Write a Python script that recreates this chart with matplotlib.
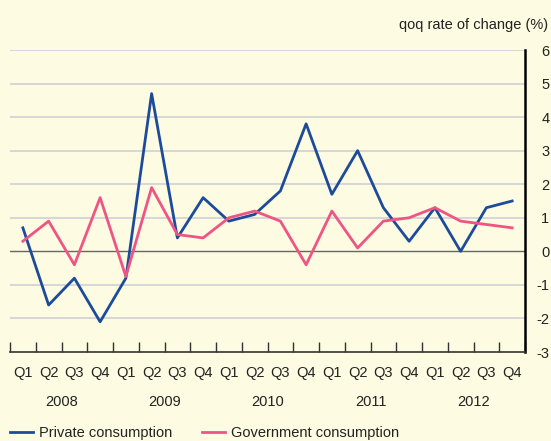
import matplotlib
matplotlib.use("Agg")
import matplotlib.pyplot as plt
import numpy as np

quarters = ["Q1", "Q2", "Q3", "Q4"] * 5
years = ["2008", "2009", "2010", "2011", "2012"]
private = [0.7, -1.6, -0.8, -2.1, -0.8, 4.7, 0.4, 1.6, 0.9, 1.1,
           1.8, 3.8, 1.7, 3.0, 1.3, 0.3, 1.3, 0.0, 1.3, 1.5]
government = [0.3, 0.9, -0.4, 1.6, -0.75, 1.9, 0.5, 0.4, 1.0, 1.2,
              0.9, -0.4, 1.2, 0.1, 0.9, 1.0, 1.3, 0.9, 0.8, 0.7]
yticks = [6, 5, 4, 3, 2, 1, 0, -1, -2, -3]

plt.rcParams['font.family'] = ['Liberation Sans', 'DejaVu Sans']
bg = "#fdfbe1"
blue = "#1d4b9c"
pink = "#ef5584"

fig = plt.figure(figsize=(5.51, 4.41), dpi=100, facecolor=bg)
ax = fig.add_axes([10/551, (441-352)/441, 515/551, 302/441], facecolor=bg)

x = np.arange(len(private))
ax.set_xlim(-0.5, len(private) - 0.5)
ax.set_ylim(-3, 6)

for v in yticks:
    if v in (0, -3):
        continue
    ax.axhline(v, color="#d4d4d8", lw=1.3, zorder=1)
ax.axhline(0, color="#666666", lw=1.0, zorder=2)

ax.plot(x, private, color=blue, lw=2.0, label="Private consumption", zorder=3)
ax.plot(x, government, color=pink, lw=2.0, label="Government consumption", zorder=3)

for s in ["top", "left"]:
    ax.spines[s].set_visible(False)
ax.spines["right"].set_color("black")
ax.spines["right"].set_linewidth(1.8)
ax.spines["bottom"].set_color("#333333")
ax.spines["bottom"].set_linewidth(1.2)

ax.yaxis.tick_right()
ax.set_yticks(yticks)
ax.set_yticklabels([str(v) for v in yticks])
ax.tick_params(axis="y", length=0, pad=17.5, labelsize=10.5, colors="#222222")
for lbl in ax.get_yticklabels():
    lbl.set_horizontalalignment("right")

ax.set_xticks(x)
ax.set_xticklabels(quarters)
ax.tick_params(axis="x", which="major", length=0, pad=10, labelsize=10.5, colors="#222222")
ax.set_xticks(np.arange(-0.5, len(private), 1.0), minor=True)
ax.tick_params(axis="x", which="minor", direction="in", length=7, width=1.0, color="#333333")

for i, yr in enumerate(years):
    ax.text(4 * i + 1.5, -4.5, yr, ha="center", va="center", fontsize=10.5, color="#222222")

fig.text(548/551, (441-25)/441, "qoq rate of change (%)", ha="right", va="center",
         fontsize=10.5, color="#222222")

fig.legend(loc="center left", bbox_to_anchor=(10/551, (441-433.5)/441), ncol=2, frameon=False,
           fontsize=10.5, handlelength=1.6, columnspacing=2.0, handletextpad=0.4,
           borderaxespad=0, borderpad=0, labelcolor="#222222")

fig.savefig("out.png", dpi=100, facecolor=bg)
